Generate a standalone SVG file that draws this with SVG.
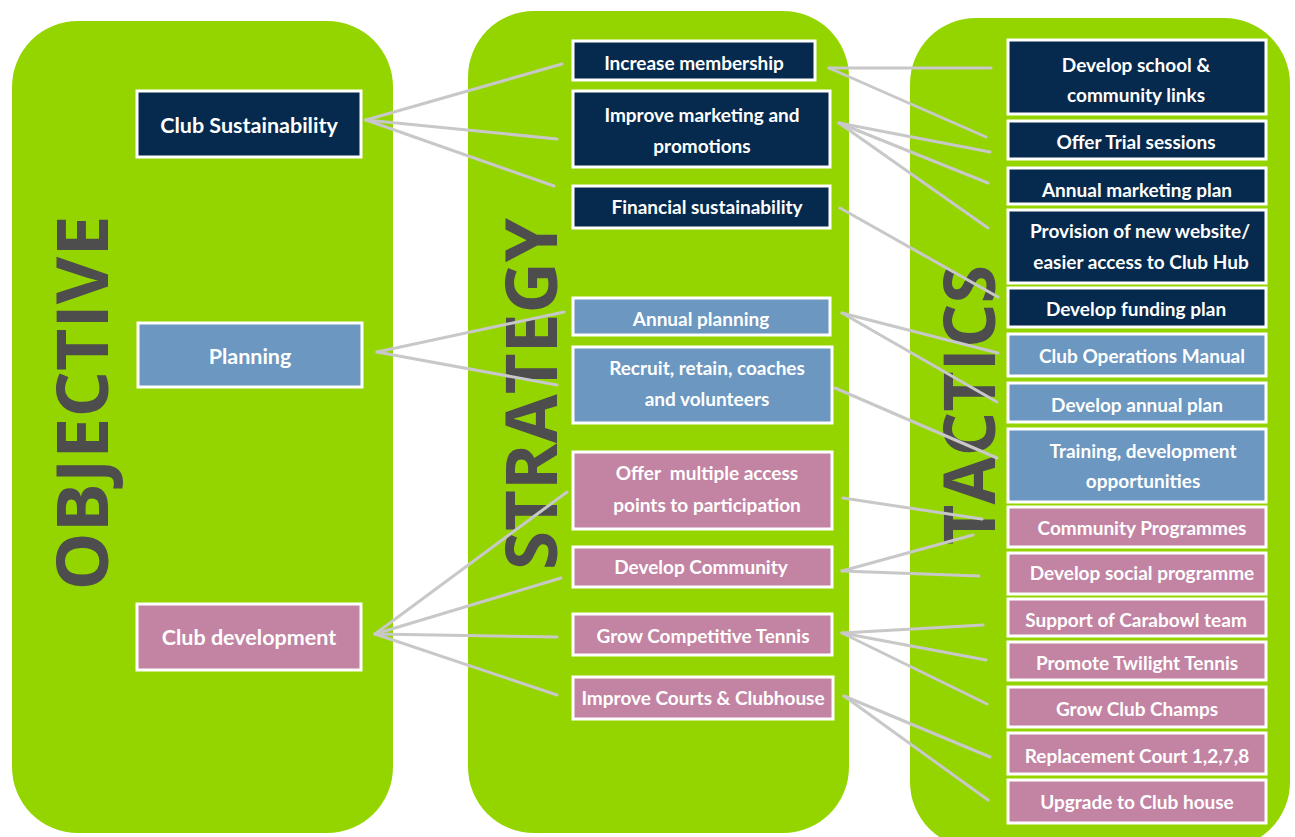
<svg xmlns="http://www.w3.org/2000/svg" width="1295" height="837" viewBox="0 0 1295 837">
<style>
.panel{fill:#94d500}
.big{font-family:"Open Sans","Liberation Sans",sans-serif;font-weight:bold;fill:#4d4d4d;text-anchor:middle}
.box{stroke:#ffffff;stroke-width:3}
.navy{fill:#062a4d}
.blue{fill:#6b97c1}
.pink{fill:#c384a3}
.t{font-family:Lato,"Liberation Sans",sans-serif;font-weight:bold;fill:#ffffff;font-size:19px;text-anchor:middle}
.ot{font-size:21.5px}
.conn line{stroke:#c8c8c8;stroke-width:3;stroke-linecap:round}
</style>
<rect width="1295" height="837" fill="#ffffff"/>
<g id="panels">
<rect class="panel" x="12" y="21" width="381" height="812" rx="66"/>
<rect class="panel" x="468" y="11" width="381" height="822" rx="66"/>
<rect class="panel" x="910" y="18" width="380" height="830" rx="66"/>
</g>
<g id="headings">
<text class="big" transform="translate(108,403) rotate(-90)" font-size="72" textLength="375" lengthAdjust="spacingAndGlyphs">OBJECTIVE</text>
<text class="big" transform="translate(557,394) rotate(-90)" font-size="72" textLength="352" lengthAdjust="spacingAndGlyphs">STRATEGY</text>
<text class="big" transform="translate(995,405) rotate(-90)" font-size="72" textLength="280" lengthAdjust="spacingAndGlyphs">TACTICS</text>
</g>
<g id="connectors" class="conn">
<line x1="366" y1="120" x2="562" y2="64"/>
<line x1="366" y1="120" x2="557" y2="139"/>
<line x1="366" y1="120" x2="554" y2="186"/>
<line x1="377" y1="352" x2="564" y2="312"/>
<line x1="377" y1="352" x2="557" y2="385"/>
<line x1="375" y1="634" x2="567" y2="492"/>
<line x1="375" y1="634" x2="561" y2="578"/>
<line x1="375" y1="634" x2="557" y2="637"/>
<line x1="375" y1="634" x2="557" y2="695"/>
<line x1="829" y1="68" x2="991" y2="68"/>
<line x1="829" y1="68" x2="986" y2="137"/>
<line x1="839" y1="123" x2="990" y2="152"/>
<line x1="839" y1="123" x2="988" y2="183"/>
<line x1="839" y1="123" x2="988" y2="228"/>
<line x1="840" y1="208" x2="998" y2="297"/>
<line x1="842" y1="313" x2="998" y2="353"/>
<line x1="842" y1="313" x2="997" y2="402"/>
<line x1="835" y1="388" x2="997" y2="458"/>
<line x1="843" y1="498" x2="982" y2="519"/>
<line x1="842" y1="571" x2="973" y2="535"/>
<line x1="842" y1="571" x2="979" y2="576"/>
<line x1="842" y1="633" x2="983" y2="625"/>
<line x1="842" y1="633" x2="986" y2="660"/>
<line x1="842" y1="633" x2="987" y2="704"/>
<line x1="844" y1="696" x2="990" y2="757"/>
<line x1="844" y1="696" x2="988" y2="800"/>
</g>
<g id="obj-sustainability"><rect class="box navy" x="137" y="91" width="224" height="66"/><text class="t ot" x="249" y="125" dy="0.35em">Club Sustainability</text></g>
<g id="obj-planning"><rect class="box blue" x="138" y="323" width="224" height="64"/><text class="t ot" x="250" y="356" dy="0.35em">Planning</text></g>
<g id="obj-development"><rect class="box pink" x="137" y="604" width="224" height="66"/><text class="t ot" x="249" y="637" dy="0.35em">Club development</text></g>

<g id="str-membership"><rect class="box navy" x="573" y="41" width="242" height="39"/><text class="t" x="694" y="63" dy="0.35em">Increase membership</text></g>
<g id="str-marketing"><rect class="box navy" x="573" y="91" width="257" height="76"/><text class="t" x="702" y="115" dy="0.35em">Improve marketing and</text><text class="t" x="702" y="146" dy="0.35em">promotions</text></g>
<g id="str-financial"><rect class="box navy" x="573" y="186" width="257" height="42"/><text class="t" x="707" y="207" dy="0.35em">Financial sustainability</text></g>
<g id="str-annual"><rect class="box blue" x="573" y="298" width="257" height="37"/><text class="t" x="701" y="319" dy="0.35em">Annual planning</text></g>
<g id="str-recruit"><rect class="box blue" x="573" y="347" width="259" height="76"/><text class="t" x="707" y="368" dy="0.35em">Recruit, retain, coaches</text><text class="t" x="707" y="399" dy="0.35em">and volunteers</text></g>
<g id="str-access"><rect class="box pink" x="573" y="452" width="259" height="77"/><text class="t" x="707" y="473" dy="0.35em" xml:space="preserve">Offer  multiple access</text><text class="t" x="707" y="505" dy="0.35em">points to participation</text></g>
<g id="str-community"><rect class="box pink" x="573" y="547" width="259" height="40"/><text class="t" x="701" y="567" dy="0.35em">Develop Community</text></g>
<g id="str-competitive"><rect class="box pink" x="573" y="614" width="259" height="41"/><text class="t" x="703" y="636" dy="0.35em">Grow Competitive Tennis</text></g>
<g id="str-courts"><rect class="box pink" x="573" y="677" width="260" height="42"/><text class="t" x="703" y="698" dy="0.35em">Improve Courts &amp; Clubhouse</text></g>

<g id="tac-school"><rect class="box navy" x="1008" y="40" width="258" height="74"/><text class="t" x="1136" y="65" dy="0.35em">Develop school &amp;</text><text class="t" x="1136" y="95" dy="0.35em">community links</text></g>
<g id="tac-trial"><rect class="box navy" x="1008" y="121" width="258" height="38"/><text class="t" x="1136" y="142" dy="0.35em">Offer Trial sessions</text></g>
<g id="tac-marketing"><rect class="box navy" x="1008" y="168" width="258" height="36"/><text class="t" x="1137" y="190" dy="0.35em">Annual marketing plan</text></g>
<g id="tac-website"><rect class="box navy" x="1008" y="210" width="258" height="73"/><text class="t" x="1140" y="231" dy="0.35em">Provision of new website/</text><text class="t" x="1141" y="262" dy="0.35em">easier access to Club Hub</text></g>
<g id="tac-funding"><rect class="box navy" x="1008" y="288" width="258" height="39"/><text class="t" x="1136" y="309" dy="0.35em">Develop funding plan</text></g>
<g id="tac-manual"><rect class="box blue" x="1008" y="334" width="258" height="42"/><text class="t" x="1142" y="356" dy="0.35em">Club Operations Manual</text></g>
<g id="tac-annualplan"><rect class="box blue" x="1008" y="383" width="258" height="39"/><text class="t" x="1137" y="405" dy="0.35em">Develop annual plan</text></g>
<g id="tac-training"><rect class="box blue" x="1008" y="429" width="258" height="73"/><text class="t" x="1143" y="451" dy="0.35em">Training, development</text><text class="t" x="1143" y="481" dy="0.35em">opportunities</text></g>
<g id="tac-commprog"><rect class="box pink" x="1008" y="507" width="258" height="40"/><text class="t" x="1142" y="528" dy="0.35em">Community Programmes</text></g>
<g id="tac-social"><rect class="box pink" x="1008" y="553" width="258" height="41"/><text class="t" x="1142" y="573" dy="0.35em">Develop social programme</text></g>
<g id="tac-carabowl"><rect class="box pink" x="1008" y="599" width="258" height="37"/><text class="t" x="1136" y="620" dy="0.35em">Support of Carabowl team</text></g>
<g id="tac-twilight"><rect class="box pink" x="1008" y="642" width="258" height="38"/><text class="t" x="1137" y="663" dy="0.35em">Promote Twilight Tennis</text></g>
<g id="tac-champs"><rect class="box pink" x="1008" y="687" width="258" height="40"/><text class="t" x="1137" y="709" dy="0.35em">Grow Club Champs</text></g>
<g id="tac-courts"><rect class="box pink" x="1008" y="733" width="258" height="41"/><text class="t" x="1137" y="756" dy="0.35em">Replacement Court 1,2,7,8</text></g>
<g id="tac-clubhouse"><rect class="box pink" x="1008" y="780" width="258" height="43"/><text class="t" x="1137" y="802" dy="0.35em">Upgrade to Club house</text></g>
</svg>
